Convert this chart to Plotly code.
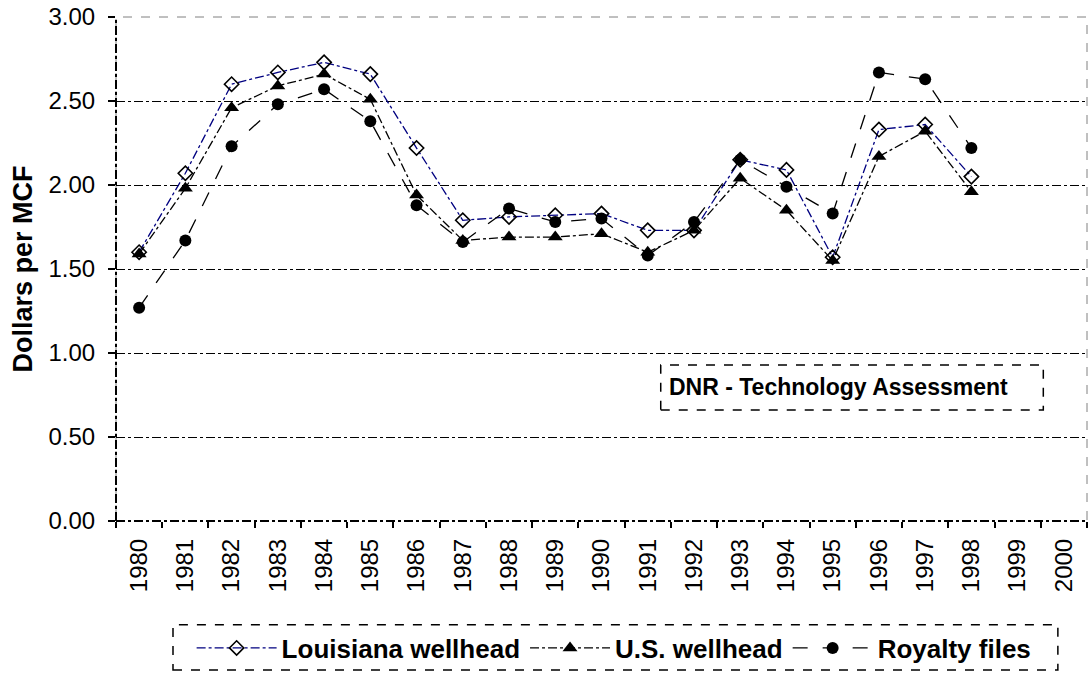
import plotly.graph_objects as go

years = [str(y) for y in range(1980, 2001)]
data_years = [str(y) for y in range(1980, 1999)]
louisiana = [1.60, 2.07, 2.60, 2.67, 2.73, 2.66, 2.22, 1.79, 1.81, 1.82, 1.83, 1.73, 1.73, 2.15, 2.09, 1.57, 2.33, 2.36, 2.05]
us_wellhead = [1.59, 1.98, 2.46, 2.59, 2.66, 2.51, 1.94, 1.67, 1.69, 1.69, 1.71, 1.60, 1.73, 2.04, 1.85, 1.55, 2.17, 2.32, 1.96]
royalty = [1.27, 1.67, 2.23, 2.48, 2.57, 2.38, 1.88, 1.66, 1.86, 1.78, 1.80, 1.58, 1.78, 2.15, 1.99, 1.83, 2.67, 2.63, 2.22]
y_ticks = [0, 0.5, 1.0, 1.5, 2.0, 2.5, 3.0]

FONT = "Liberation Sans, Arial, sans-serif"

fig = go.Figure()
fig.add_trace(go.Scatter(
    x=data_years, y=louisiana, name="Louisiana wellhead", mode="lines+markers",
    line=dict(color="#000080", width=1.3, dash="dashdot"),
    marker=dict(symbol="diamond-open", size=11, color="black", line=dict(width=1.6, color="black")),
))
fig.add_trace(go.Scatter(
    x=data_years, y=us_wellhead, name="U.S. wellhead", mode="lines+markers",
    line=dict(color="black", width=1.3, dash="dashdot"),
    marker=dict(symbol="triangle-up", size=13, color="black"),
))
fig.add_trace(go.Scatter(
    x=data_years, y=royalty, name="Royalty files", mode="lines+markers",
    line=dict(color="black", width=1.3, dash="longdash"),
    marker=dict(symbol="circle", size=12, color="black"),
))

fig.update_layout(
    width=1088, height=674,
    margin=dict(l=116, r=1, t=17, b=153),
    paper_bgcolor="white", plot_bgcolor="white",
    font=dict(family=FONT, color="black"),
    showlegend=True,
    legend=dict(
        orientation="h", x=0.513, xanchor="center", y=-0.252, yanchor="middle",
        font=dict(size=26, family=FONT, weight="bold"),
        bgcolor="rgba(0,0,0,0)", borderwidth=0,
        itemwidth=80,
    ),
    xaxis=dict(
        type="category", categoryorder="array", categoryarray=years,
        range=[-0.5, 20.5], tickson="boundaries", automargin=False,
        ticks="outside", ticklen=6, tickwidth=1.5, tickcolor="black",
        tickangle=-90, tickfont=dict(size=24, family=FONT),
        ticklabelstandoff=12,
        showgrid=False, showline=False, zeroline=False,
    ),
    yaxis=dict(
        range=[0, 3.0], tickvals=y_ticks, tickformat=".2f", automargin=False,
        ticks="outside", ticklen=7, tickwidth=1.5, tickcolor="black",
        tickfont=dict(size=24, family=FONT), ticklabelstandoff=8,
        ticklabeloverflow="allow",
        showgrid=True, gridcolor="black", gridwidth=1, griddash="dashdot",
        showline=False, zeroline=False,
        title=dict(text="Dollars per MCF", font=dict(size=27, family=FONT, weight="bold"), standoff=8),
    ),
    shapes=[
        dict(type="rect", xref="paper", yref="paper", x0=0, x1=1, y0=0, y1=1,
             line=dict(color="gray", width=1, dash="dash"), layer="below"),
        dict(type="line", xref="paper", yref="paper", x0=0, x1=0, y0=0, y1=1,
             line=dict(color="black", width=2, dash="dashdot")),
        dict(type="line", xref="paper", yref="paper", x0=0, x1=1, y0=0, y1=0,
             line=dict(color="black", width=2, dash="dashdot")),
        dict(type="rect", xref="paper", yref="paper", x0=0.561, x1=0.955, y0=0.220, y1=0.3095,
             line=dict(color="black", width=1.5, dash="dash"), fillcolor="white", layer="above"),
        dict(type="rect", xref="paper", yref="paper", x0=0.0587, x1=0.970, y0=-0.2956, y1=-0.206,
             line=dict(color="black", width=1.5, dash="dash")),
    ],
    annotations=[
        dict(text="DNR - Technology Assessment", xref="paper", yref="paper",
             x=0.567, y=0.265, xanchor="left", yanchor="middle", showarrow=False,
             font=dict(size=23, family=FONT, weight="bold")),
    ],
)

fig.write_html("out.html", config={"displayModeBar": False},
               post_script="document.body.style.margin='0px';")
